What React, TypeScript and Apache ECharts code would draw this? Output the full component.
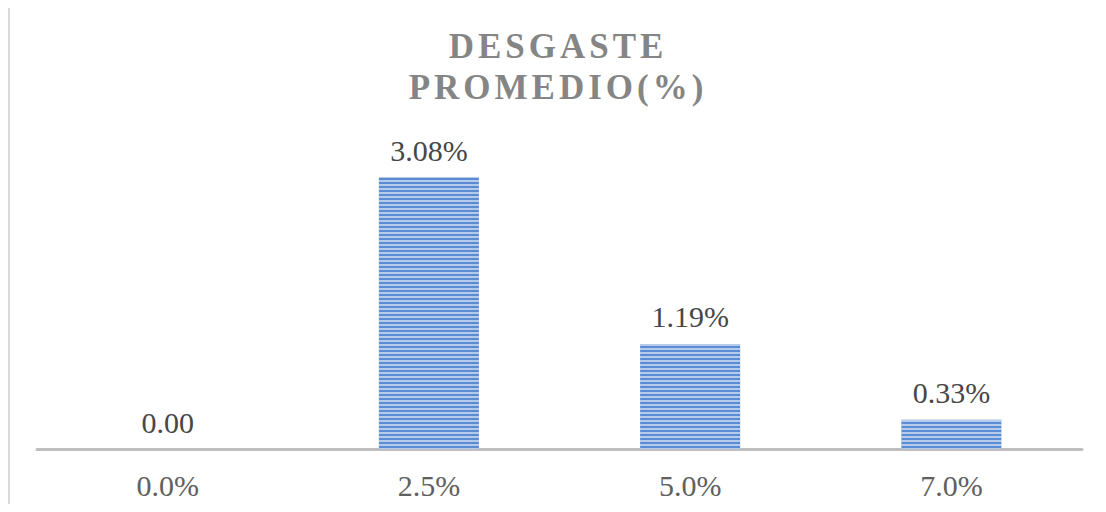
import React, { useEffect, useRef } from "react";
import * as echarts from "echarts";

const titleLines = ["DESGASTE", "PROMEDIO(%)"];
const categories = ["0.0%", "2.5%", "5.0%", "7.0%"];
const values = [0, 3.08, 1.19, 0.33];

export default function App() {
  const ref = useRef<HTMLDivElement>(null);
  useEffect(() => {
    const styleEl = document.createElement("style");
    styleEl.textContent =
      'text[style*="TitleFace"], text[font-family*="TitleFace"] { letter-spacing: 4px; }';
    document.head.appendChild(styleEl);
    const chart = echarts.init(ref.current!, undefined, { renderer: "svg" });
    chart.setOption({
      animation: false,
      title: {
        text: titleLines.join("\n"),
        left: "center",
        top: 13,
        textStyle: {
          fontFamily: "'Liberation Serif', TitleFace",
          fontWeight: "bold",
          fontSize: 35,
          lineHeight: 41,
          color: "#858585",
        },
      },
      grid: { left: 27, right: 24, top: 132, bottom: 55 },
      xAxis: {
        type: "category",
        data: categories,
        axisLine: { lineStyle: { color: "#bfbfbf", width: 3 } },
        axisTick: { show: false },
        axisLabel: {
          margin: 21,
          fontFamily: "'Liberation Serif'",
          fontSize: 30,
          color: "#606060",
        },
      },
      yAxis: {
        type: "value",
        min: 0,
        max: 3.5,
        show: false,
        splitLine: { show: false },
      },
      series: [
        {
          type: "bar",
          data: values,
          barWidth: 100,
          itemStyle: {
            color: "#5a8bd3",
            decal: {
              symbol: "rect",
              symbolSize: 1,
              dashArrayX: [1, 0],
              dashArrayY: [1.5, 2],
              rotation: 0,
              color: "rgba(255,255,255,0.55)",
            },
          },
          label: {
            show: true,
            position: "top",
            distance: 12,
            fontFamily: "'Liberation Serif'",
            fontSize: 30,
            color: "#474747",
            formatter: (p: any) =>
              p.value === 0 ? "0.00" : p.value.toFixed(2) + "%",
          },
        },
      ],
    });
    return () => {
      chart.dispose();
      styleEl.remove();
    };
  }, []);
  return (
    <div
      style={{
        marginTop: -1,
        borderTop: "1px solid #d9d9d9",
        borderLeft: "2px solid #d9d9d9",
      }}
    >
      <div ref={ref} style={{ width: 1096, height: 496 }} />
    </div>
  );
}
